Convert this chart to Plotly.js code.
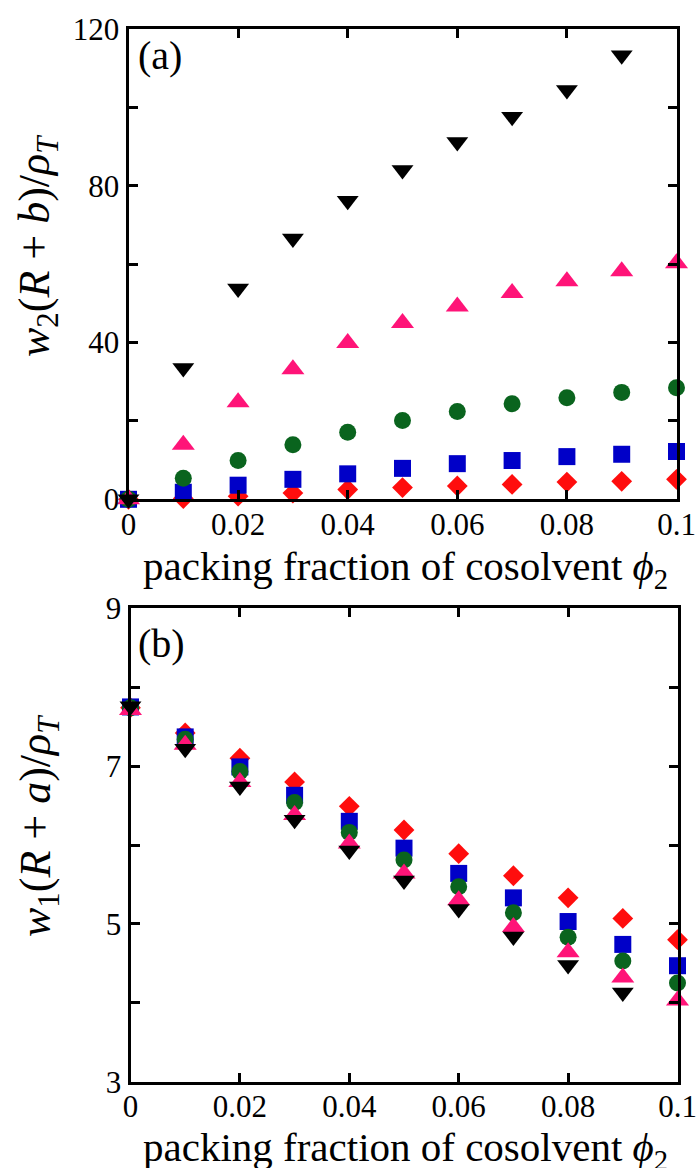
<!DOCTYPE html>
<html>
<head>
<meta charset="utf-8">
<script src="https://cdn.plot.ly/plotly-3.0.1.min.js"></script>
<style>
html,body{margin:0;padding:0;background:#fff;}
#chart{width:699px;height:1168px;}
#chart svg text{font-family:'Liberation Serif' !important;}
</style>
</head>
<body>
<div id="chart"></div>
<script>
// packing fraction of cosolvent phi_2
const phi = [0, 0.01, 0.02, 0.03, 0.04, 0.05, 0.06, 0.07, 0.08, 0.09, 0.1];

// panel (a): w2(R+b)/rho_T
const w2Red   = [0, 0.2, 0.8, 1.6, 2.5, 3.0, 3.4, 3.8, 4.4, 4.6, 5.1];
const w2Blue  = [0, 1.8, 3.6, 5.1, 6.5, 7.9, 9.1, 9.9, 10.9, 11.5, 12.2];
const w2Green = [0, 5.4, 9.9, 13.9, 17.1, 20.1, 22.4, 24.4, 25.9, 27.3, 28.5];
const w2Pink  = [0, 13.9, 24.8, 33.2, 39.9, 45.0, 49.2, 52.7, 55.7, 58.2, 60.3];
const w2Black = [0, 33.5, 53.8, 66.6, 76.2, 84.1, 91.2, 97.7, 104.5, 113.4, null];

// panel (b): w1(R+a)/rho_T
const w1Red   = [7.74, 7.42, 7.10, 6.80, 6.49, 6.19, 5.89, 5.61, 5.33, 5.07, 4.80];
const w1Blue  = [7.75, 7.37, 6.99, 6.63, 6.30, 5.96, 5.64, 5.33, 5.03, 4.74, 4.47];
const w1Green = [7.74, 7.34, 6.93, 6.54, 6.16, 5.81, 5.47, 5.14, 4.83, 4.53, 4.25];
const w1Pink  = [7.71, 7.27, 6.80, 6.38, 6.02, 5.64, 5.30, 4.96, 4.64, 4.32, 4.03];
const w1Black = [7.76, 7.22, 6.74, 6.32, 5.93, 5.55, 5.19, 4.84, 4.48, 4.13, null];

// tick labels
const xTickVals = [0, 0.02, 0.04, 0.06, 0.08, 0.1];
const xTickText = ['0', '0.02', '0.04', '0.06', '0.08', '0.1'];
const yTopVals = [0, 40, 80, 120];
const yTopText = ['0', '40', '80', '120'];
const yTopMinor = [20, 60, 100];
const yBotVals = [3, 5, 7, 9];
const yBotText = ['3', '5', '7', '9'];
const yBotMinor = [4, 6, 8];

// text
const xTitle = 'packing fraction of cosolvent <i>ϕ</i><sub>2</sub>';
const yTitleTop = '<i>w</i><sub>2</sub>(<i>R</i> + <i>b</i>)/<i>ρ</i><sub><i>T</i></sub>';
const yTitleBot = '<i>w</i><sub>1</sub>(<i>R</i> + <i>a</i>)/<i>ρ</i><sub><i>T</i></sub>';

const styles = [
  {name: 'red', color: '#ff0d0d', symbol: 'diamond', size: 16},
  {name: 'blue', color: '#0000c8', symbol: 'square', size: 17},
  {name: 'green', color: '#0a641e', symbol: 'circle', size: 17},
  {name: 'pink', color: '#ff1478', symbol: 'triangle-up', size: 20},
  {name: 'black', color: '#000000', symbol: 'triangle-down', size: 19}
];
const topSeries = [w2Red, w2Blue, w2Green, w2Pink, w2Black];
const botSeries = [w1Red, w1Blue, w1Green, w1Pink, w1Black];

const traces = [];
topSeries.forEach((ys, i) => {
  traces.push({x: phi, y: ys, xaxis: 'x', yaxis: 'y', type: 'scatter', mode: 'markers',
    cliponaxis: false, showlegend: false, name: styles[i].name,
    marker: {color: styles[i].color, symbol: styles[i].symbol, size: styles[i].size, line: {width: 0}}});
});
botSeries.forEach((ys, i) => {
  traces.push({x: phi, y: ys, xaxis: 'x2', yaxis: 'y2', type: 'scatter', mode: 'markers',
    cliponaxis: false, showlegend: false, name: styles[i].name,
    marker: {color: styles[i].color, symbol: styles[i].symbol, size: styles[i].size, line: {width: 0}}});
});

const FONT = 'Liberation Serif';
const W = 699, H = 1168;
const ML = 128, MR = 21, MT = 29, MB = 86;
const PW = W - ML - MR, PH = H - MT - MB;
const xd = (a, b) => [(a - ML) / PW, (b - ML) / PW];
const yd = (top, bot) => [(H - MB - bot) / PH, (H - MB - top) / PH];
const px = (x) => (x - ML) / PW;
const py = (y) => (H - MB - y) / PH;

function axisCommon() {
  return {
    showline: true, linecolor: '#000', linewidth: 3, mirror: 'ticks',
    ticks: 'inside', ticklen: 9, tickwidth: 3, tickcolor: '#000',
    showgrid: false, zeroline: false, tickmode: 'array',
    tickfont: {family: FONT, size: 31, color: '#000'}
  };
}
function minorTicks(vals) {
  return {tickmode: 'array', tickvals: vals, ticks: 'inside', ticklen: 9, tickwidth: 3,
    tickcolor: '#000', showgrid: false};
}

const layout = {
  width: W, height: H,
  margin: {l: ML, r: MR, t: MT, b: MB},
  paper_bgcolor: '#fff', plot_bgcolor: '#fff',
  showlegend: false,
  font: {family: FONT, color: '#000'},
  xaxis: Object.assign(axisCommon(), {
    domain: xd(128.5, 676.5), anchor: 'y', range: [0, 0.1],
    tickvals: xTickVals, ticktext: xTickText, ticklabelstandoff: -5
  }),
  yaxis: Object.assign(axisCommon(), {
    domain: yd(29.3, 499.3), anchor: 'x', range: [0, 120],
    tickvals: yTopVals, ticktext: yTopText, minor: minorTicks(yTopMinor)
  }),
  xaxis2: Object.assign(axisCommon(), {
    domain: xd(130.5, 677.5), anchor: 'y2', range: [0, 0.1],
    tickvals: xTickVals, ticktext: xTickText, ticklabelstandoff: -5
  }),
  yaxis2: Object.assign(axisCommon(), {
    domain: yd(608.3, 1081.7), anchor: 'x2', range: [3, 9],
    tickvals: yBotVals, ticktext: yBotText, minor: minorTicks(yBotMinor)
  }),
  annotations: [
    {text: xTitle, xref: 'paper', yref: 'paper', x: px(405), y: py(569),
      xanchor: 'center', yanchor: 'middle', showarrow: false,
      font: {family: FONT, size: 41, color: '#000'}},
    {text: xTitle, xref: 'paper', yref: 'paper', x: px(405), y: py(1150),
      xanchor: 'center', yanchor: 'middle', showarrow: false,
      font: {family: FONT, size: 41, color: '#000'}},
    {text: yTitleTop, xref: 'paper', yref: 'paper', x: px(38), y: py(246),
      xanchor: 'center', yanchor: 'middle', textangle: -90, showarrow: false,
      font: {family: FONT, size: 44, color: '#000'}},
    {text: yTitleBot, xref: 'paper', yref: 'paper', x: px(38), y: py(826),
      xanchor: 'center', yanchor: 'middle', textangle: -90, showarrow: false,
      font: {family: FONT, size: 44, color: '#000'}},
    {text: '(a)', xref: 'paper', yref: 'paper', x: px(136), y: py(55),
      xanchor: 'left', yanchor: 'middle', showarrow: false,
      font: {family: FONT, size: 40, color: '#000'}},
    {text: '(b)', xref: 'paper', yref: 'paper', x: px(136), y: py(643),
      xanchor: 'left', yanchor: 'middle', showarrow: false,
      font: {family: FONT, size: 40, color: '#000'}}
  ]
};

Plotly.newPlot('chart', traces, layout, {staticPlot: true, displayModeBar: false});
</script>
</body>
</html>
